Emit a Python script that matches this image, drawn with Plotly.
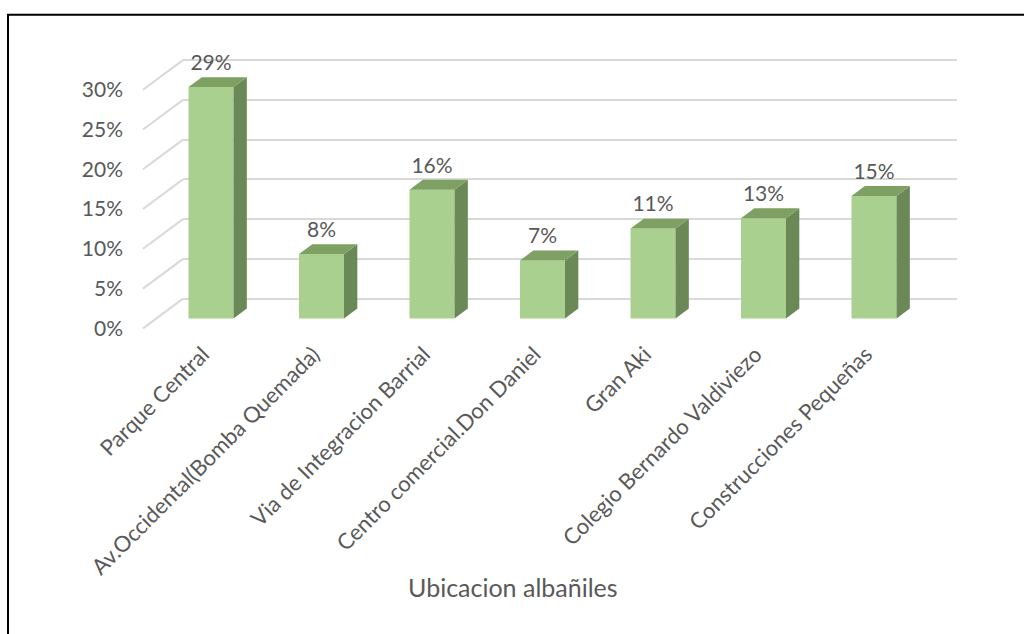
import plotly.graph_objects as go

# ---------------- data ----------------
categories = [
    "Parque Central",
    "Av.Occidental(Bomba Quemada)",
    "Via de Integracion Barrial",
    "Centro comercial.Don Daniel",
    "Gran Aki",
    "Colegio Bernardo Valdiviezo",
    "Construcciones Pequeñas",
]
values = [29.1, 8.1, 16.2, 7.3, 11.3, 12.6, 15.4]
value_labels = ["29%", "8%", "16%", "7%", "11%", "13%", "15%"]
y_ticks = [0, 5, 10, 15, 20, 25, 30]
y_tick_labels = ["0%", "5%", "10%", "15%", "20%", "25%", "30%"]
axis_title = "Ubicacion albañiles"

# ---------------- geometry / style ----------------
W, H = 1024, 634
PLOT_BOTTOM = 336          # px (from top) where the plotting area ends
PX_PER_PCT = 8.04
PX_PER_CAT = 110.5
CAT0_PX = 211              # px of first category centre
FRONT_ZERO_PX = 322        # px of bar front-face baseline
DEPTH_DX, DEPTH_DY = 40, 30  # px shift for full floor depth
BAR_Z0, BAR_Z1 = 1 / 3, 2 / 3
FLOOR_LEFT_FRONT_PX = 143
WALL_RIGHT_PX = 957
LABEL_AXIS_PX = 123
BAR_W_PX = 45
LABEL_GAP_PX = 12

FONT = "Lato"
TXT = "#595959"
FRONT = "#A9D08E"
SIDE = "#6B8857"
TOP = "#7EA063"
GRID = "#D9D9D9"

dom_y = [1 - PLOT_BOTTOM / H, 1]


def yrange(zero_px):
    return [-(PLOT_BOTTOM - zero_px) / PX_PER_PCT, zero_px / PX_PER_PCT]


floor_zero_px = FRONT_ZERO_PX + DEPTH_DY * BAR_Z0
wall_zero_px = FRONT_ZERO_PX - DEPTH_DY * (1 - BAR_Z0)
wall_left_px = FLOOR_LEFT_FRONT_PX + DEPTH_DX

dx_u = DEPTH_DX * (BAR_Z1 - BAR_Z0) / PX_PER_CAT
dy_u = DEPTH_DY * (BAR_Z1 - BAR_Z0) / PX_PER_PCT
hw = BAR_W_PX / PX_PER_CAT / 2

xs = list(range(len(categories)))

fig = go.Figure()

# invisible anchors for the back-wall grid subplot and the tick-label axis
fig.add_trace(go.Scatter(x=[0.5], y=[0], mode="markers", marker=dict(opacity=0),
                         hoverinfo="skip", xaxis="x", yaxis="y"))
fig.add_trace(go.Scatter(x=[0.5], y=[0], mode="markers", marker=dict(opacity=0),
                         hoverinfo="skip", xaxis="x", yaxis="y3"))

# diagonal floor-to-wall lines for each tick
dxs, dys = [], []
fx = (FLOOR_LEFT_FRONT_PX - CAT0_PX) / PX_PER_CAT
bx = (wall_left_px - CAT0_PX) / PX_PER_CAT
for t in y_ticks:
    dxs += [fx, bx, None]
    dys += [t - DEPTH_DY * BAR_Z0 / PX_PER_PCT, t + DEPTH_DY * (1 - BAR_Z0) / PX_PER_PCT, None]
fig.add_trace(go.Scatter(x=dxs, y=dys, mode="lines", line=dict(color=GRID, width=2),
                         hoverinfo="skip", xaxis="x2", yaxis="y2"))

# bar front faces
fig.add_trace(go.Bar(x=xs, y=values, width=2 * hw, marker=dict(color=FRONT, line=dict(width=0)),
                     hoverinfo="skip", xaxis="x2", yaxis="y2"))

# side faces
sx, sy = [], []
for i, v in zip(xs, values):
    sx += [i + hw, i + hw + dx_u, i + hw + dx_u, i + hw, i + hw, None]
    sy += [0, dy_u, v + dy_u, v, 0, None]
fig.add_trace(go.Scatter(x=sx, y=sy, mode="lines", fill="toself", fillcolor=SIDE,
                         line=dict(width=0, color=SIDE), hoverinfo="skip", xaxis="x2", yaxis="y2"))

# top faces
tx, ty = [], []
for i, v in zip(xs, values):
    tx += [i - hw, i + hw, i + hw + dx_u, i - hw + dx_u, i - hw, None]
    ty += [v, v, v + dy_u, v + dy_u, v, None]
fig.add_trace(go.Scatter(x=tx, y=ty, mode="lines", fill="toself", fillcolor=TOP,
                         line=dict(width=0, color=TOP), hoverinfo="skip", xaxis="x2", yaxis="y2"))

# value labels
fig.add_trace(go.Scatter(x=xs, y=[v + LABEL_GAP_PX / PX_PER_PCT for v in values],
                         mode="text", text=value_labels, textposition="top center",
                         textfont=dict(family=FONT, size=21, color=TXT),
                         hoverinfo="skip", xaxis="x2", yaxis="y2"))

fig.update_layout(
    width=W, height=H,
    margin=dict(l=0, r=0, t=0, b=0),
    paper_bgcolor="white",
    plot_bgcolor="rgba(0,0,0,0)",
    showlegend=False,
    hovermode=False,
    font=dict(family=FONT, color=TXT),
    # back wall grid
    xaxis=dict(domain=[wall_left_px / W, WALL_RIGHT_PX / W], range=[0, 1], visible=False,
               fixedrange=True),
    yaxis=dict(domain=dom_y, range=yrange(wall_zero_px), tickvals=y_ticks,
               showgrid=True, gridcolor=GRID, gridwidth=2, zeroline=False,
               showticklabels=False, ticks="", showline=False, anchor="x"),
    # tick labels aligned to the front floor edge
    yaxis3=dict(overlaying="y", anchor="free", position=LABEL_AXIS_PX / W, side="left",
                range=yrange(floor_zero_px), tickvals=y_ticks, ticktext=y_tick_labels,
                showgrid=False, zeroline=False, ticks="", showline=False,
                tickfont=dict(family=FONT, size=21, color=TXT)),
    # bars
    xaxis2=dict(domain=[0, 1], anchor="y2",
                range=[-CAT0_PX / PX_PER_CAT, (W - CAT0_PX) / PX_PER_CAT],
                tickvals=xs, ticktext=categories, tickangle=-45, ticklabelshift=-8,
                ticklabelstandoff=4,
                showgrid=False, zeroline=False, showline=False, ticks="",
                tickfont=dict(family=FONT, size=22, color=TXT)),
    yaxis2=dict(domain=dom_y, anchor="x2", range=yrange(FRONT_ZERO_PX), visible=False),
    annotations=[dict(text=axis_title, xref="paper", yref="paper", x=513 / W, y=1 - 594 / H,
                      xanchor="center", yanchor="middle", showarrow=False,
                      font=dict(family=FONT, size=25, color=TXT))],
    shapes=[dict(type="rect", xref="paper", yref="paper", x0=8 / W, x1=1.05,
                 y0=-0.05, y1=1 - 15 / H, line=dict(color="black", width=2),
                 fillcolor="rgba(0,0,0,0)", layer="above")],
)

fig.write_html("out.html", config={"displayModeBar": False},
               post_script="document.body.style.margin='0';document.body.style.overflow='hidden';")
